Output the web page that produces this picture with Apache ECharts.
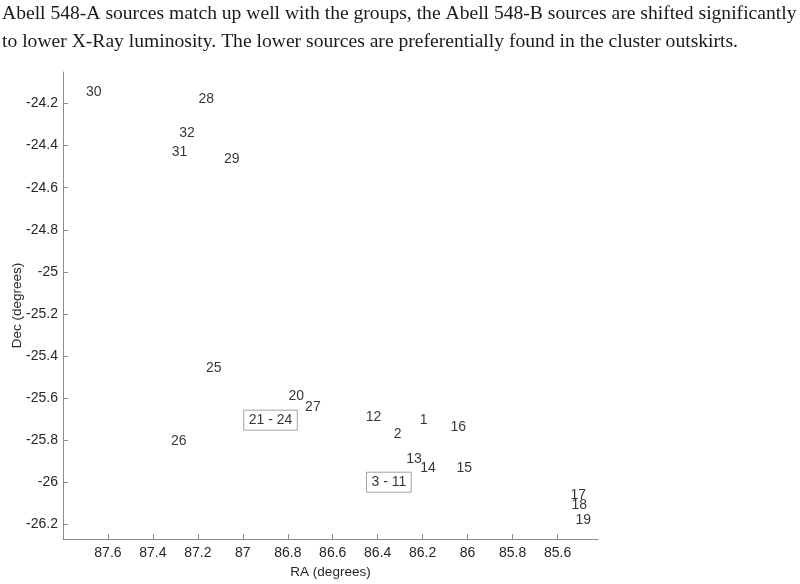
<!DOCTYPE html>
<html lang="en">
<head>
    <meta charset="UTF-8">
    <title>Abell 548 sources</title>
    <script src="https://cdn.jsdelivr.net/npm/echarts@6/dist/echarts.min.js"></script>
    <style>
        html, body { margin: 0; padding: 0; background: #fff; }
        #main { width: 800px; height: 584px; }
    </style>
</head>
<body>
<div id="main"></div>
<script type="text/javascript">
// source numbers and positions
var labels = ['1', '2', '12', '13', '14', '15', '16', '17', '18', '19', '20', '25', '26', '27', '28', '29', '30', '31', '32'];
var ra = [86.213, 86.329, 86.453, 86.273, 86.211, 86.05, 86.076, 85.542, 85.538, 85.52, 86.797, 87.164, 87.32, 86.723, 87.197, 87.084, 87.698, 87.316, 87.283];
var dec = [-25.703, -25.771, -25.689, -25.889, -25.933, -25.933, -25.737, -26.062, -26.108, -26.178, -25.592, -25.459, -25.807, -25.645, -24.181, -24.465, -24.148, -24.433, -24.343];

// grouped sources drawn in a box
var groupLabels = ['21 - 24', '3 - 11'];
var groupRa = [86.996, 86.45];
var groupDec = [-25.705, -26.0];

var xTicks = [87.6, 87.4, 87.2, 87, 86.8, 86.6, 86.4, 86.2, 86, 85.8, 85.6];
var yTicks = [-24.2, -24.4, -24.6, -24.8, -25, -25.2, -25.4, -25.6, -25.8, -26, -26.2];

var caption = [
    'Abell 548-A sources match up well with the groups, the Abell 548-B sources are shifted significantly',
    'to lower X-Ray luminosity. The lower sources are preferentially found in the cluster outskirts.'
];

var pts = labels.map(function (s, i) { return { value: [ra[i], dec[i]], name: s }; });
var boxes = groupLabels.map(function (s, i) { return { value: [groupRa[i], groupDec[i]], name: s }; });

var chart = echarts.init(document.getElementById('main'));
var font = 'Liberation Sans, Arial, Helvetica, sans-serif';
var axisColor = '#8c8c8c';

var option = {
    backgroundColor: '#fff',
    animation: false,
    textStyle: { fontFamily: font },
    graphic: [
        { type: 'text', left: 2, top: 4, style: { text: caption[0], font: '19.6px "Liberation Serif", serif', fill: '#1a1a1a' } },
        { type: 'text', left: 2, top: 32, style: { text: caption[1], font: '19.6px "Liberation Serif", serif', fill: '#1a1a1a' } }
    ],
    grid: { left: 63, top: 72, right: 202, bottom: 45, containLabel: false, outerBoundsMode: 'none' },
    xAxis: {
        type: 'value',
        inverse: true,
        min: 85.42,
        max: 87.8,
        name: 'RA (degrees)',
        nameLocation: 'middle',
        nameGap: 26,
        nameMoveOverlap: false,
        nameTextStyle: { fontSize: 13.5, color: '#262626', fontFamily: font },
        splitLine: { show: false },
        axisLine: { show: true, onZero: false, lineStyle: { color: axisColor, width: 1 } },
        axisTick: { show: true, inside: true, length: 5, customValues: xTicks, lineStyle: { color: axisColor } },
        axisLabel: { customValues: xTicks, fontSize: 14, color: '#262626', margin: 7, fontFamily: font }
    },
    yAxis: {
        type: 'value',
        min: -26.27,
        max: -24.05,
        name: 'Dec (degrees)',
        nameLocation: 'middle',
        nameRotate: 90,
        nameGap: 39,
        nameMoveOverlap: false,
        nameTextStyle: { fontSize: 13.5, color: '#262626', fontFamily: font },
        splitLine: { show: false },
        axisLine: { show: true, onZero: false, lineStyle: { color: axisColor, width: 1 } },
        axisTick: { show: true, inside: true, length: 5, customValues: yTicks, lineStyle: { color: axisColor } },
        axisLabel: { customValues: yTicks, fontSize: 14, color: '#262626', margin: 5, fontFamily: font }
    },
    series: [
        {
            type: 'scatter',
            data: pts,
            symbolSize: 0,
            itemStyle: { color: 'transparent' },
            label: {
                show: true,
                position: 'right',
                distance: 0,
                formatter: '{b}',
                fontSize: 14,
                color: '#000',
                fontFamily: font
            }
        },
        {
            type: 'scatter',
            data: boxes,
            symbolSize: 0,
            itemStyle: { color: 'transparent' },
            label: {
                show: true,
                position: 'right',
                distance: 0,
                formatter: '{b}',
                fontSize: 14,
                color: '#000',
                fontFamily: font,
                borderColor: '#8c8c8c',
                borderWidth: 1,
                padding: [3, 5, 3, 5]
            }
        }
    ]
};

chart.setOption(option);
</script>
</body>
</html>
